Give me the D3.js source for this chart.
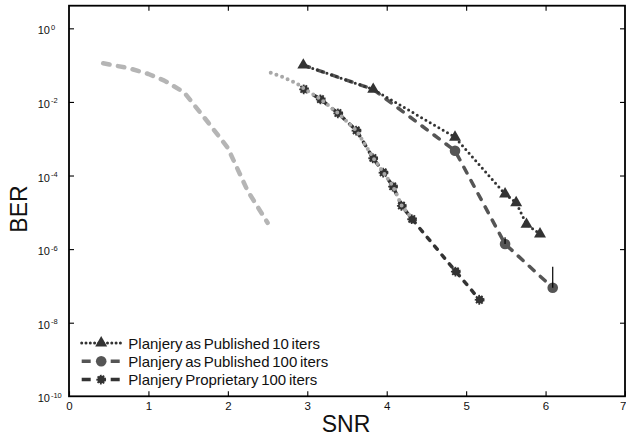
<!DOCTYPE html>
<html>
<head>
<meta charset="utf-8">
<script src="https://cdn.jsdelivr.net/npm/d3@7/dist/d3.min.js"></script>
<style>
    body { margin: 0; background: #fff; }
    svg { display: block; font-family: Arial, "Liberation Sans", sans-serif; }
</style>
</head>
<body>
<svg id="chart" width="626" height="438"></svg>
<script>
// tick values
const snrTicks = [0, 1, 2, 3, 4, 5, 6, 7];
const berExponents = [0, -2, -4, -6, -8, -10];

// light gray dashed reference curve (not in legend)
const refSnr = [0.43, 0.75, 1.0, 1.2, 1.45, 1.75, 2.0, 2.25, 2.5];
const refBer = [0.112, 0.083, 0.0575, 0.038, 0.0182, 2.8e-3, 5.6e-4, 3.8e-5, 5.2e-6];

// light gray dotted curve (not in legend)
const refDotSnr = [2.54, 2.70, 2.87, 2.96, 3.17, 3.39, 3.62, 3.83, 3.96, 4.08, 4.19, 4.32];
const refDotBer = [0.0617, 0.0468, 0.0316, 0.0229, 0.0118, 4.9e-3, 1.66e-3, 3.0e-4, 1.2e-4, 5.0e-5, 1.5e-5, 6.8e-6];

// Planjery as Published 10 iters
const pub10Snr = [2.95, 3.83, 4.86, 5.49, 5.63, 5.76, 5.93];
const pub10Ber = [0.1, 0.0219, 1.1e-3, 3.16e-5, 1.82e-5, 4.7e-6, 2.57e-6];

// Planjery as Published 100 iters
const pub100Snr = [2.95, 3.83, 4.86, 5.49, 6.09];
const pub100Ber = [0.1, 0.0219, 4.7e-4, 1.38e-6, 8.9e-8];
const pub100ErrSnr = [5.49, 6.09];
const pub100ErrTop = [2.1e-6, 3.3e-7];

// Planjery Proprietary 100 iters
const propSnr = [2.96, 3.17, 3.39, 3.62, 3.83, 3.96, 4.08, 4.19, 4.32, 4.87, 5.17];
const propBer = [0.022, 0.0117, 4.9e-3, 1.66e-3, 2.95e-4, 1.2e-4, 5.0e-5, 1.5e-5, 6.5e-6, 2.45e-7, 4.2e-8];

const legendLabels = [
    "Planjery as Published 10 iters",
    "Planjery as Published 100 iters",
    "Planjery Proprietary 100 iters"
];

const frame = {left: 69, right: 625, top: 5.7, bottom: 396.3};

const svg = d3.select("#chart");

const xScale = d3.scaleLinear()
    .domain([0, 7])
    .range([frame.left, frame.right]);
const yScale = d3.scaleLog()
    .domain([1e-10, Math.pow(10, 0.615)])
    .range([frame.bottom, frame.top]);

const line = d3.line()
    .x(function(d) { return xScale(d[0]); })
    .y(function(d) { return yScale(d[1]); });

function pairs(xs, ys) {
    return xs.map(function(x, i) { return [x, ys[i]]; });
}

function drawLine(data, color, width, dash) {
    svg.append("path")
        .attr("d", line(data))
        .attr("fill", "none")
        .attr("stroke", color)
        .attr("stroke-width", width)
        .attr("stroke-linecap", "round")
        .attr("stroke-linejoin", "round")
        .attr("stroke-dasharray", dash);
}

function triangle(g, color) {
    g.append("path")
        .attr("d", d3.symbol().type(d3.symbolTriangle).size(62)())
        .attr("fill", color);
}
function disc(g, color) {
    g.append("circle").attr("r", 5.3).attr("fill", color);
}
function gear(g, color) {
    g.append("circle")
        .attr("r", 3.8)
        .attr("fill", color)
        .attr("stroke", color)
        .attr("stroke-width", 2.2)
        .attr("stroke-dasharray", "1.6,1.1");
}

function drawMarkers(data, shape, color) {
    data.forEach(function(d) {
        const g = svg.append("g")
            .attr("transform", "translate(" + xScale(d[0]) + "," + yScale(d[1]) + ")");
        shape(g, color);
    });
}

// curves
drawLine(pairs(refSnr, refBer), "#b5b5b5", 4.5, "6.5,8.5");

drawLine(pairs(propSnr, propBer), "#333", 3.5, "4,7.5");
drawMarkers(pairs(propSnr, propBer), gear, "#333");

drawLine(pairs(refDotSnr, refDotBer), "#a8a8a8", 4, "0,6");

// circles only where the 100-iter curve leaves the 10-iter one
drawLine(pairs(pub100Snr, pub100Ber), "#555", 3.5, "6.5,8.5");
drawMarkers(pairs(pub100Snr, pub100Ber).filter(function(d, i) {
    return !(pub10Snr[i] === d[0] && pub10Ber[i] === d[1]);
}), disc, "#555");

drawLine(pairs(pub10Snr, pub10Ber), "#333", 3, "0,5");
drawMarkers(pairs(pub10Snr, pub10Ber), triangle, "#333");

// error bars (upper)
pub100ErrSnr.forEach(function(s, i) {
    const k = pub100Snr.indexOf(s);
    svg.append("line")
        .attr("x1", xScale(s)).attr("x2", xScale(s))
        .attr("y1", yScale(pub100Ber[k]))
        .attr("y2", yScale(pub100ErrTop[i]))
        .attr("stroke", "#000")
        .attr("stroke-width", 1.2);
});

// axes with inward ticks on all four sides
const xAxisBottom = d3.axisBottom(xScale)
    .tickValues(snrTicks)
    .tickSize(-5)
    .tickSizeOuter(0)
    .tickPadding(5.5)
    .tickFormat(d3.format("d"));
const xAxisTop = d3.axisTop(xScale)
    .tickValues(snrTicks.slice(1, -1))
    .tickSize(-5)
    .tickSizeOuter(0)
    .tickFormat("");
const yTickVals = berExponents.slice(0, -1).map(function(e) { return Math.pow(10, e); });
const yAxisLeft = d3.axisLeft(yScale)
    .tickValues(yTickVals)
    .tickSize(-5)
    .tickSizeOuter(0)
    .tickFormat("");
const yAxisRight = d3.axisRight(yScale)
    .tickValues(yTickVals)
    .tickSize(-5)
    .tickSizeOuter(0)
    .tickFormat("");

function styleAxis(g) {
    g.select(".domain").remove();
    g.selectAll(".tick line").attr("stroke", "#000").attr("stroke-width", 1.1);
    g.selectAll(".tick text")
        .attr("fill", "#111")
        .style("font-size", "11.5px")
        .style("font-family", "Arial, 'Liberation Sans', sans-serif");
}

const bottomAxis = svg.append("g")
    .attr("transform", "translate(0," + frame.bottom + ")")
    .call(xAxisBottom).call(styleAxis);
// last label sits on the window edge: keep it inside
bottomAxis.selectAll(".tick text")
    .filter(function(d) { return d === snrTicks[snrTicks.length - 1]; })
    .attr("text-anchor", "end")
    .attr("x", 1);

svg.append("g")
    .attr("transform", "translate(0," + frame.top + ")")
    .call(xAxisTop).call(styleAxis);
svg.append("g")
    .attr("transform", "translate(" + frame.left + ",0)")
    .call(yAxisLeft).call(styleAxis);
svg.append("g")
    .attr("transform", "translate(" + frame.right + ",0)")
    .call(yAxisRight).call(styleAxis);

// frame
svg.append("rect")
    .attr("x", frame.left).attr("y", frame.top)
    .attr("width", frame.right - frame.left)
    .attr("height", frame.bottom - frame.top)
    .attr("fill", "none")
    .attr("stroke", "#000")
    .attr("stroke-width", 1.8);

// y tick labels 10^n
const yLabels = svg.append("g").attr("fill", "#111");
berExponents.forEach(function(e) {
    const y = yScale(Math.pow(10, e));
    const t = yLabels.append("text")
        .attr("x", 37.7)
        .attr("y", y + 6)
        .style("font-size", "11px");
    t.append("tspan").text("10");
    t.append("tspan")
        .attr("dy", -4.5)
        .attr("dx", 1)
        .style("font-size", "7.5px")
        .text(e);
});

// axis titles
svg.append("text")
    .attr("x", (frame.left + frame.right) / 2 - 1)
    .attr("y", 431.5)
    .attr("text-anchor", "middle")
    .style("font-size", "23px")
    .attr("fill", "#111")
    .text("SNR");
svg.append("text")
    .attr("transform", "translate(27,209) rotate(-90)")
    .attr("text-anchor", "middle")
    .style("font-size", "23px")
    .attr("fill", "#111")
    .text("BER");

// legend
const legendRows = [
    {dash: "0,4.3", color: "#333", width: 3, shape: triangle},
    {dash: "9,20", color: "#555", width: 3.5, shape: disc},
    {dash: "9,20", color: "#333", width: 3.5, shape: gear}
];
legendRows.forEach(function(r, i) {
    const cy = 343 + i * 18.3;
    svg.append("line")
        .attr("x1", 81.7).attr("x2", 120.7)
        .attr("y1", cy).attr("y2", cy)
        .attr("stroke", r.color)
        .attr("stroke-width", r.width)
        .attr("stroke-linecap", i === 0 ? "round" : "butt")
        .attr("stroke-dasharray", r.dash);
    const g = svg.append("g").attr("transform", "translate(101.2," + cy + ")");
    r.shape(g, r.color);
    svg.append("text")
        .attr("x", 128.3)
        .attr("y", cy + 5.6)
        .style("font-size", "15px")
        .style("word-spacing", "-1.5px")
        .attr("fill", "#111")
        .text(legendLabels[i]);
});
</script>
</body>
</html>
